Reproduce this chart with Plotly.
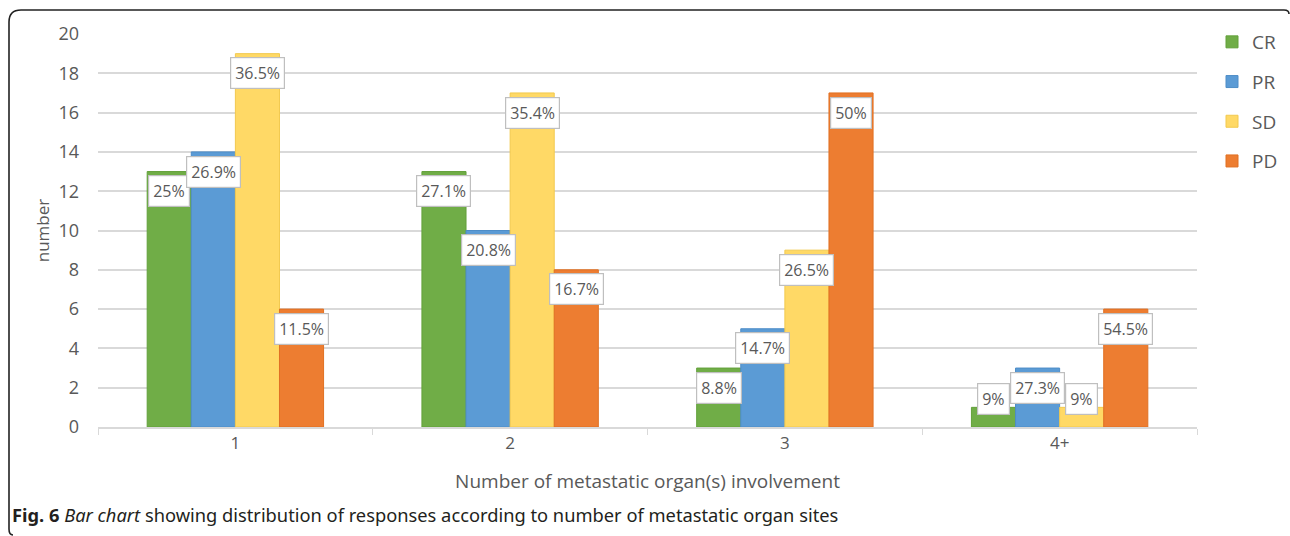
import plotly.graph_objects as go

# Response counts per number of metastatic organ sites
categories = ["1", "2", "3", "4+"]
series_names = ["CR", "PR", "SD", "PD"]
cr_counts = [13, 13, 3, 1]
pr_counts = [14, 10, 5, 3]
sd_counts = [19, 17, 9, 1]
pd_counts = [6, 8, 17, 6]
cr_labels = ["25%", "27.1%", "8.8%", "9%"]
pr_labels = ["26.9%", "20.8%", "14.7%", "27.3%"]
sd_labels = ["36.5%", "35.4%", "26.5%", "9%"]
pd_labels = ["11.5%", "16.7%", "50%", "54.5%"]
y_ticks = [0, 2, 4, 6, 8, 10, 12, 14, 16, 18, 20]

colors = {"CR": "#70AD47", "PR": "#5B9BD5", "SD": "#FFD966", "PD": "#ED7D31"}
edge = {"CR": "#63A03A", "PR": "#4E8DC7", "SD": "#F2C94F", "PD": "#E07023"}

values = {"CR": cr_counts, "PR": pr_counts, "SD": sd_counts, "PD": pd_counts}
labels = {"CR": cr_labels, "PR": pr_labels, "SD": sd_labels, "PD": pd_labels}

W, H = 1290, 536
L, R, T, B = 98, 93, 34, 109
plot_w = W - L - R
plot_h = H - T - B

fig = go.Figure()
for name in series_names:
    fig.add_trace(go.Bar(
        x=categories, y=values[name], name=name,
        marker=dict(color=colors[name], line=dict(color=edge[name], width=1)),
        legendgroup=name,
    ))

# Percentage labels in boxed callouts near the top of each bar
n = len(series_names)
bargap = 0.358
slot = (1 - bargap) / n
for si, name in enumerate(series_names):
    for ci, cat in enumerate(categories):
        v = values[name][ci]
        xoff = -(1 - bargap) / 2 + slot * (si + 0.5)
        ylab = max(v - 1.0, 1.4)
        fig.add_annotation(
            x=ci + xoff, y=ylab, xref="x", yref="y",
            text=labels[name][ci], showarrow=False,
            font=dict(family="Open Sans", size=16, color="#595959"),
            bgcolor="white", bordercolor="#BFBFBF", borderwidth=1.2, borderpad=4,
        )

def px_x(px):
    return (px - L) / plot_w

def px_y(py):
    return (H - B - py) / plot_h

# Rounded frame around the figure
x0, x1, x2, x3 = px_x(9), px_x(21), px_x(1284), px_x(1289)
y0, y1, y2, y3 = px_y(10), px_y(22), px_y(529), px_y(535)
yr = px_y(14)
xb = px_x(13)
frame = (f"M {x3},{yr} Q {x3},{y0} {x2},{y0} L {x1},{y0} "
         f"Q {x0},{y0} {x0},{y1} L {x0},{y2} Q {x0},{y3} {xb},{y3}")
fig.add_shape(type="path", path=frame, xref="paper", yref="paper",
              line=dict(color="#222222", width=1.6))

# Caption
fig.add_annotation(
    x=px_x(10), y=px_y(514), xref="paper", yref="paper", xanchor="left", yanchor="middle",
    text="<b>Fig. 6</b> <i>Bar chart</i> showing distribution of responses according to number of metastatic organ sites",
    showarrow=False, font=dict(family="Noto Sans", size=18.3, color="#231F20"),
)

fig.update_layout(
    width=W, height=H,
    margin=dict(l=L, r=R, t=T, b=B, autoexpand=False),
    paper_bgcolor="white", plot_bgcolor="white",
    barmode="group", bargap=bargap, bargroupgap=0,
    font=dict(family="Open Sans", color="#595959"),
    showlegend=True,
    legend=dict(
        x=px_x(1212), y=px_y(23), xanchor="left", yanchor="top",
        font=dict(family="Open Sans", size=19, color="#595959"),
        tracegroupgap=12, itemwidth=30, traceorder="grouped",
    ),
    xaxis=dict(
        type="category", showgrid=False, showline=True, linecolor="#D9D9D9", linewidth=1.5,
        ticks="outside", tickson="boundaries", ticklen=6, tickcolor="#D9D9D9",
        tickfont=dict(family="Open Sans", size=17, color="#595959"),
        title=dict(text="Number of metastatic organ(s) involvement", standoff=22,
                   font=dict(family="Open Sans", size=19, color="#595959")),
    ),
    yaxis=dict(
        range=[0, 20], tickvals=y_ticks, showgrid=True, gridcolor="#D9D9D9", gridwidth=1.5,
        zeroline=False, showline=False,
        tickfont=dict(family="Open Sans", size=18, color="#595959"),
        ticklabelstandoff=18,
        title=dict(text="number", standoff=4,
                   font=dict(family="Open Sans", size=17, color="#595959")),
    ),
)

fig.write_html("out.html")
